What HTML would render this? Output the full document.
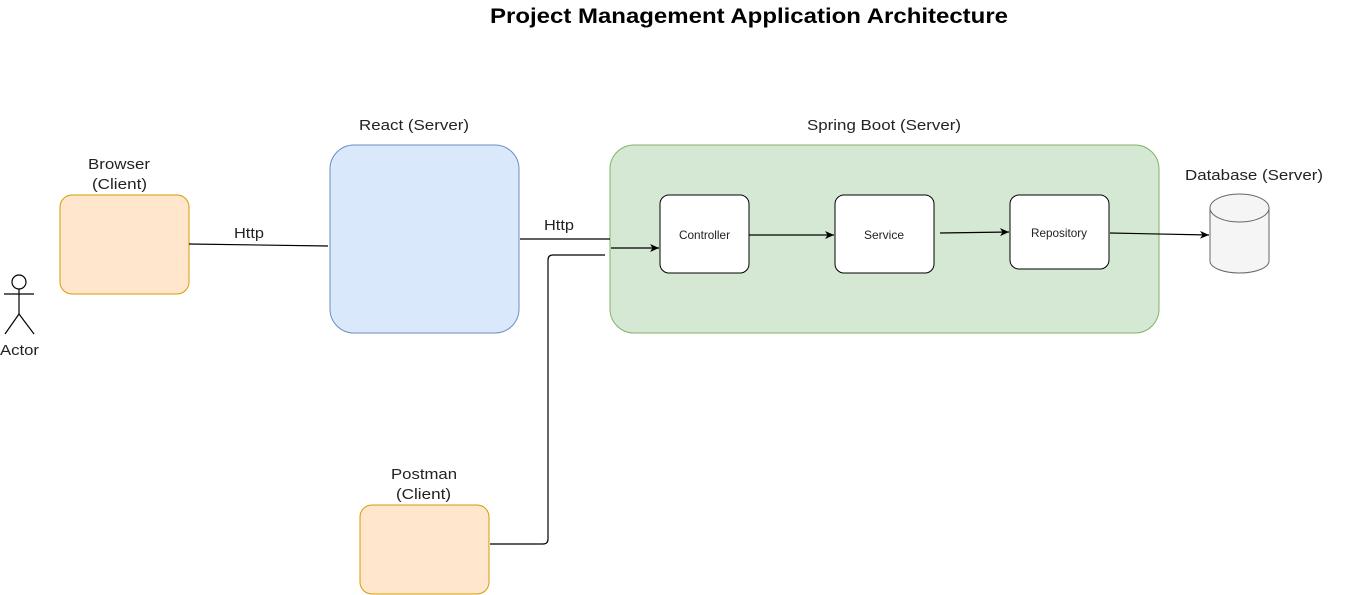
<!DOCTYPE html>
<html><head><meta charset="utf-8"><style>
html,body{margin:0;padding:0;background:#fff;}
svg{display:block;font-family:"Liberation Sans",Arial,sans-serif;}
</style></head><body>
<svg width="1360" height="595" viewBox="0 0 1360 595" xmlns="http://www.w3.org/2000/svg">
<defs>
<marker id="a" markerWidth="10" markerHeight="10" refX="9" refY="5" orient="auto" markerUnits="userSpaceOnUse">
<path d="M0,1 L9,5 L0,9 L2.5,5 Z" fill="#000"/>
</marker>
</defs>
<text x="490" y="23" font-size="21" font-weight="bold" fill="#000" textLength="518" lengthAdjust="spacingAndGlyphs">Project Management Application Architecture</text>

<g stroke="#000" stroke-width="1.2" fill="none">
<circle cx="19" cy="282" r="7" fill="#fff"/>
<line x1="19" y1="289" x2="19" y2="314"/>
<line x1="4" y1="294" x2="34" y2="294"/>
<line x1="19" y1="314" x2="5" y2="334"/>
<line x1="19" y1="314" x2="34" y2="334"/>
</g>
<g font-size="15" fill="#222">
<text x="0" y="355" textLength="39" lengthAdjust="spacingAndGlyphs">Actor</text>
<text x="88" y="169" textLength="62" lengthAdjust="spacingAndGlyphs">Browser</text>
<text x="92" y="189" textLength="55" lengthAdjust="spacingAndGlyphs">(Client)</text>
<text x="359" y="130" textLength="110" lengthAdjust="spacingAndGlyphs">React (Server)</text>
<text x="807" y="130" textLength="154" lengthAdjust="spacingAndGlyphs">Spring Boot (Server)</text>
<text x="1185" y="180" textLength="138" lengthAdjust="spacingAndGlyphs">Database (Server)</text>
<text x="391" y="479" textLength="66" lengthAdjust="spacingAndGlyphs">Postman</text>
<text x="396" y="499" textLength="55" lengthAdjust="spacingAndGlyphs">(Client)</text>
<text x="234" y="238" textLength="30" lengthAdjust="spacingAndGlyphs">Http</text>
<text x="544" y="230" textLength="30" lengthAdjust="spacingAndGlyphs">Http</text>
</g>

<rect x="60" y="195" width="129" height="99" rx="12" fill="#ffe6cc" stroke="#d79b00"/>
<rect x="330" y="145" width="189" height="188" rx="24" fill="#dae8fc" stroke="#6c8ebf"/>
<rect x="610" y="145" width="549" height="188" rx="24" fill="#d5e8d4" stroke="#82b366"/>

<rect x="660" y="195" width="89" height="78" rx="9" fill="#fff" stroke="#000"/>
<text x="679" y="239" font-size="12" textLength="51" lengthAdjust="spacingAndGlyphs" fill="#222">Controller</text>
<rect x="835" y="195" width="99" height="78" rx="9" fill="#fff" stroke="#000"/>
<text x="864" y="239" font-size="12" textLength="40" lengthAdjust="spacingAndGlyphs" fill="#222">Service</text>
<rect x="1010" y="195" width="99" height="74" rx="9" fill="#fff" stroke="#000"/>
<text x="1031" y="237" font-size="12" textLength="56" lengthAdjust="spacingAndGlyphs" fill="#222">Repository</text>

<path d="M1210,208 A29.5,14 0 0 1 1269,208 L1269,261 A29.5,12 0 0 1 1210,261 Z" fill="#f5f5f5" stroke="#666"/>
<path d="M1210,208 A29.5,14 0 0 0 1269,208" fill="none" stroke="#666"/>

<rect x="360" y="505" width="129" height="89" rx="12" fill="#ffe6cc" stroke="#d79b00"/>

<g stroke="#000" stroke-width="1.2" fill="none">
<line x1="189" y1="244" x2="328" y2="246"/>
<line x1="520" y1="239" x2="610" y2="239"/>
<line x1="611" y1="248" x2="659" y2="248" marker-end="url(#a)"/>
<path d="M490,544 L543,544 Q548,544 548,539 L548,260 Q548,255 553,255 L605,255"/>
<line x1="749" y1="235" x2="834" y2="235" marker-end="url(#a)"/>
<line x1="940" y1="233" x2="1009" y2="232" marker-end="url(#a)"/>
<line x1="1110" y1="233" x2="1209" y2="235" marker-end="url(#a)"/>
</g>
</svg>
</body></html>
